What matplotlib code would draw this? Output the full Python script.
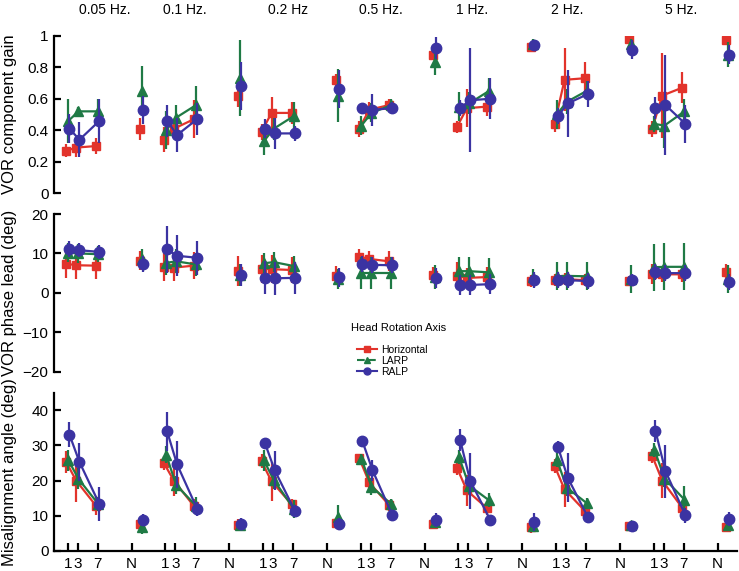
import matplotlib.pyplot as plt
from matplotlib.lines import Line2D

plt.rcParams["font.family"] = ["Liberation Sans", "DejaVu Sans"]

FREQ_LABELS = ["0.05 Hz.", "0.1 Hz.", "0.2 Hz", "0.5 Hz.", "1 Hz.", "2 Hz.", "5 Hz."]
DAYS = [1, 3, 7]
SERIES = ["Horizontal", "LARP", "RALP"]

# each row: one frequency -> [day 1, day 3, day 7, N]
GAIN_HOR = [[0.27, 0.29, 0.30, 0.41], [0.34, 0.41, 0.47, 0.62], [0.39, 0.51, 0.51, 0.72],
            [0.41, 0.53, 0.56, 0.88], [0.42, 0.54, 0.55, 0.93], [0.44, 0.72, 0.73, 0.98],
            [0.41, 0.62, 0.67, 0.97]]
GAIN_HOR_SD = [[0.04, 0.06, 0.05, 0.07], [0.08, 0.06, 0.12, 0.07], [0.05, 0.10, 0.07, 0.04],
               [0.05, 0.05, 0.04, 0.03], [0.04, 0.12, 0.06, 0.03], [0.05, 0.20, 0.10, 0.02],
               [0.05, 0.27, 0.10, 0.02]]
GAIN_LARP = [[0.46, 0.52, 0.52, 0.65], [0.40, 0.48, 0.56, 0.73], [0.33, 0.41, 0.49, 0.62],
             [0.43, 0.51, 0.56, 0.83], [0.55, 0.57, 0.65, 0.95], [0.50, 0.58, 0.65, 0.95],
             [0.44, 0.43, 0.52, 0.88]]
GAIN_LARP_SD = [[0.14, 0.03, 0.08, 0.16], [0.12, 0.08, 0.12, 0.24], [0.09, 0.07, 0.09, 0.17],
                [0.06, 0.06, 0.04, 0.08], [0.09, 0.07, 0.08, 0.03], [0.09, 0.08, 0.06, 0.03],
                [0.05, 0.14, 0.08, 0.08]]
GAIN_RALP = [[0.41, 0.34, 0.46, 0.53], [0.46, 0.37, 0.47, 0.68], [0.41, 0.38, 0.38, 0.66],
             [0.54, 0.53, 0.54, 0.92], [0.54, 0.59, 0.60, 0.94], [0.49, 0.57, 0.63, 0.91],
             [0.54, 0.56, 0.44, 0.88]]
GAIN_RALP_SD = [[0.09, 0.11, 0.14, 0.09], [0.10, 0.11, 0.10, 0.15], [0.06, 0.10, 0.05, 0.12],
                [0.03, 0.10, 0.04, 0.07], [0.05, 0.33, 0.13, 0.03], [0.05, 0.21, 0.08, 0.06],
                [0.07, 0.32, 0.12, 0.06]]

PHASE_HOR = [[7.4, 7.0, 6.9, 8.2], [6.6, 6.4, 6.9, 5.6], [6.1, 6.0, 5.8, 4.4],
             [9.2, 8.6, 8.0, 4.5], [4.4, 3.8, 4.0, 3.0], [3.2, 3.5, 3.2, 3.0],
             [4.8, 4.7, 4.7, 5.2]]
PHASE_HOR_SD = [[3.7, 3.5, 3.5, 2.5], [3.5, 3.5, 3.5, 3.8], [3.5, 3.5, 3.3, 2.5],
                [2.0, 2.0, 2.5, 2.0], [3.5, 2.5, 2.5, 1.5], [1.5, 1.5, 1.5, 1.2],
                [2.5, 2.0, 2.0, 2.0]]
PHASE_LARP = [[10.2, 10.0, 9.8, 8.5], [7.6, 8.0, 7.2, 4.6], [7.5, 7.8, 6.8, 3.6],
              [5.0, 5.0, 5.0, 4.0], [5.5, 5.5, 5.2, 4.0], [4.2, 4.3, 4.2, 3.5],
              [6.5, 6.6, 6.6, 3.5]]
PHASE_LARP_SD = [[2.5, 2.5, 2.0, 2.5], [3.0, 3.0, 3.0, 2.8], [2.5, 2.5, 2.5, 2.5],
                 [4.0, 4.0, 4.0, 3.0], [3.6, 3.6, 3.6, 2.0], [3.6, 3.6, 3.6, 3.5],
                 [6.0, 6.0, 6.0, 3.5]]
PHASE_RALP = [[11.1, 10.8, 10.4, 7.3], [11.0, 9.4, 8.9, 4.5], [3.8, 3.7, 3.8, 3.9],
              [7.3, 7.1, 7.0, 3.7], [2.0, 2.0, 2.2, 3.3], [3.2, 3.2, 3.0, 3.2],
              [5.2, 5.0, 5.0, 2.8]]
PHASE_RALP_SD = [[2.0, 1.8, 1.7, 2.0], [6.0, 5.2, 4.3, 2.8], [4.2, 4.2, 4.0, 2.5],
                 [2.0, 2.0, 2.0, 2.5], [2.5, 2.5, 2.5, 2.0], [2.0, 2.0, 2.0, 1.5],
                 [2.0, 2.0, 2.0, 2.0]]

MIS_HOR = [[25.3, 20.0, 12.8, 7.7], [25.0, 20.0, 12.8, 7.5], [25.5, 19.8, 13.3, 8.0],
           [26.4, 19.5, 13.0, 7.8], [23.7, 17.2, 12.2, 6.7], [24.2, 17.5, 11.5, 7.2],
           [27.0, 20.0, 12.3, 6.8]]
MIS_HOR_SD = [[3.0, 6.0, 2.7, 1.5], [2.0, 4.5, 2.0, 1.5], [2.0, 5.5, 1.5, 1.5],
              [1.0, 3.0, 1.5, 1.5], [2.0, 4.5, 2.0, 1.5], [2.0, 5.0, 1.5, 1.0],
              [2.0, 5.0, 1.5, 1.0]]
MIS_LARP = [[25.8, 20.5, 13.3, 6.9], [27.4, 18.8, 12.8, 7.3], [25.8, 20.2, 12.0, 9.7],
            [26.2, 18.3, 13.3, 8.3], [26.6, 18.6, 14.4, 7.0], [26.0, 18.0, 13.6, 7.5],
            [28.8, 20.6, 14.6, 7.5]]
MIS_LARP_SD = [[3.0, 3.0, 2.0, 2.0], [2.5, 2.5, 2.5, 1.5], [3.0, 2.5, 2.5, 3.5],
               [1.5, 2.5, 1.5, 1.5], [2.0, 2.5, 2.0, 1.5], [2.0, 2.5, 1.5, 1.0],
               [2.0, 2.5, 4.0, 1.0]]
MIS_RALP = [[33.1, 25.3, 13.3, 8.8], [34.0, 24.6, 12.0, 7.8], [30.8, 22.9, 11.5, 7.8],
            [31.2, 23.0, 10.1, 8.8], [31.6, 20.0, 8.9, 8.2], [29.7, 20.8, 9.7, 7.1],
            [34.1, 22.7, 10.1, 9.2]]
MIS_RALP_SD = [[3.5, 5.5, 4.8, 1.8], [5.5, 6.8, 2.0, 1.5], [0.8, 5.5, 1.5, 1.5],
               [0.8, 3.0, 1.0, 2.0], [3.2, 8.0, 1.0, 2.5], [1.5, 7.0, 1.5, 1.0],
               [3.2, 7.5, 2.0, 2.0]]

# layout of the x axis (days are linear inside a frequency block)
GROUP_PERIOD = 19.54
N_TICK = 13.8
N_SHIFT = 2.0

COLORS = ["#e2332b", "#1f7a45", "#3b33a2"]
MARKERS = ["s", "^", "o"]
MSIZES = [5.5, 7.0, 7.5]
OFFSETS = [-0.3, 0.15, 0.35]
HEADER_X_PX = [105, 185, 288, 381, 472, 567, 681]


def draw_panel(ax, values, errors):
    for i, (vals, errs) in enumerate(zip(values, errors)):
        style = dict(color=COLORS[i], marker=MARKERS[i], ms=MSIZES[i], lw=1.6,
                     elinewidth=1.6, capsize=0, mec=COLORS[i], zorder=2 + i)
        for g in range(len(FREQ_LABELS)):
            base = g * GROUP_PERIOD
            xs = [base + d + OFFSETS[i] for d in DAYS]
            ax.errorbar(xs, vals[g][:3], yerr=errs[g][:3], **style)
            ax.errorbar([base + N_TICK + N_SHIFT + OFFSETS[i]], [vals[g][3]],
                        yerr=[errs[g][3]], **style)


def style_axis(ax, ylabel):
    for side in ["top", "right", "bottom"]:
        ax.spines[side].set_visible(False)
    ax.spines["left"].set_linewidth(1.6)
    ax.tick_params(axis="y", direction="in", length=5, width=1.6, labelsize=11, pad=4)
    ax.set_xlim(-1.74, 134.9)
    ax.set_ylabel(ylabel, fontsize=12)
    ax.yaxis.set_label_coords(-0.054, 0.5)


fig = plt.figure(figsize=(7.39, 5.71), dpi=100)
W, H = 739, 571
left, width = 54 / W, 683 / W
ax_gain = fig.add_axes([left, (H - 193.3) / H, width, 157.6 / H])
ax_phase = fig.add_axes([left, (H - 371.7) / H, width, 157.7 / H])
ax_mis = fig.add_axes([left, (H - 551) / H, width, 158.3 / H])

draw_panel(ax_gain, [GAIN_HOR, GAIN_LARP, GAIN_RALP], [GAIN_HOR_SD, GAIN_LARP_SD, GAIN_RALP_SD])
draw_panel(ax_phase, [PHASE_HOR, PHASE_LARP, PHASE_RALP], [PHASE_HOR_SD, PHASE_LARP_SD, PHASE_RALP_SD])
draw_panel(ax_mis, [MIS_HOR, MIS_LARP, MIS_RALP], [MIS_HOR_SD, MIS_LARP_SD, MIS_RALP_SD])

style_axis(ax_gain, "VOR component gain")
style_axis(ax_phase, "VOR phase lead (deg)")
style_axis(ax_mis, "Misalignment angle (deg)")

ax_gain.set_ylim(0, 1)
ax_gain.set_yticks([0, 0.2, 0.4, 0.6, 0.8, 1])
ax_gain.set_yticklabels(["0", "0.2", "0.4", "0.6", "0.8", "1"])
ax_gain.set_xticks([])

ax_phase.set_ylim(-20, 20)
ax_phase.set_yticks([-20, -10, 0, 10, 20])
ax_phase.set_xticks([])

ax_mis.set_ylim(0, 45)
ax_mis.set_yticks([0, 10, 20, 30, 40])
ax_mis.spines["bottom"].set_visible(True)
ax_mis.spines["bottom"].set_linewidth(1.6)
xticks, xlabels = [], []
for g in range(len(FREQ_LABELS)):
    base = g * GROUP_PERIOD
    xticks += [base + d for d in DAYS] + [base + N_TICK]
    xlabels += [str(d) for d in DAYS] + ["N"]
ax_mis.set_xticks(xticks)
ax_mis.set_xticklabels(xlabels)
ax_mis.tick_params(axis="x", direction="in", length=6, width=1.6, labelsize=11, pad=4)

for label, xp in zip(FREQ_LABELS, HEADER_X_PX):
    fig.text(xp / W, 1 - 10 / H, label, ha="center", va="center", fontsize=10)

# legend sits inside the phase panel
fig.text(351 / W, 1 - 328 / H, "Head Rotation Axis", ha="left", va="center", fontsize=8)
handles = [
    Line2D([], [], color=COLORS[0], marker="s", ms=4.5, lw=1.5),
    Line2D([], [], color=COLORS[1], marker="^", ms=5, lw=1.5, ls="--"),
    Line2D([], [], color=COLORS[2], marker="o", ms=5, lw=1.5),
]
fig.legend(handles, SERIES, loc="upper left", bbox_to_anchor=(357 / W, 1 - 345 / H),
           frameon=False, fontsize=7.5, handlelength=1.9, handletextpad=0.4,
           labelspacing=0.1, borderpad=0, borderaxespad=0)

fig.savefig("out.png", dpi=100)
